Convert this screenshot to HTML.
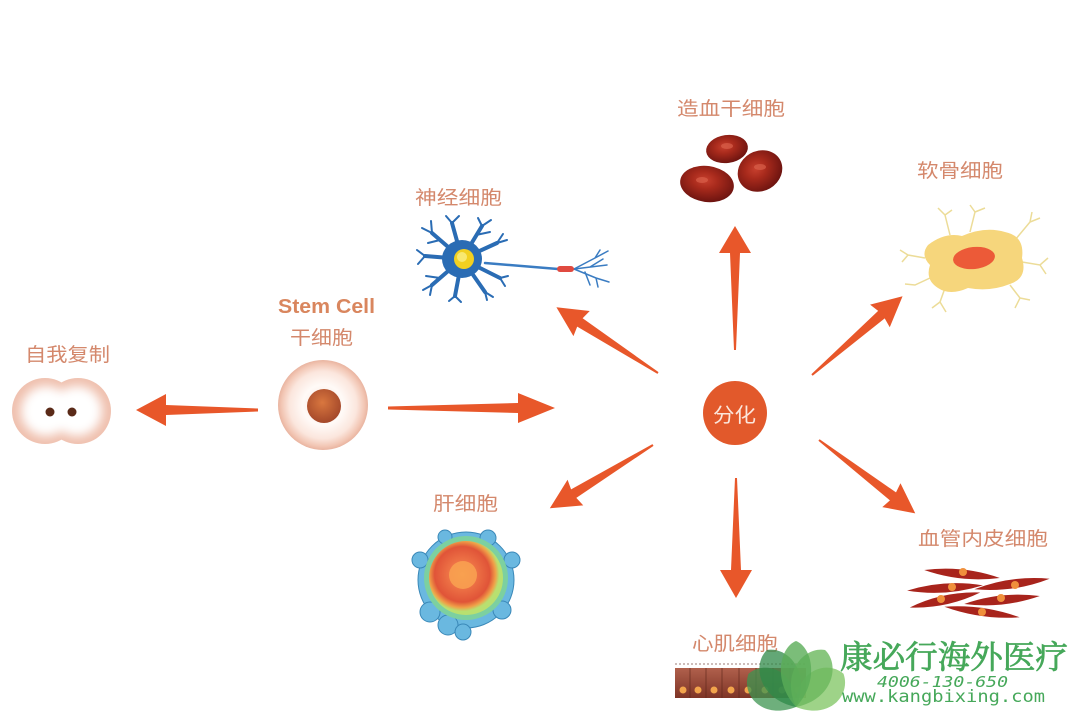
<!DOCTYPE html>
<html>
<head>
<meta charset="utf-8">
<style>
  html,body{margin:0;padding:0;background:#fff;}
  svg{display:block;}
  .lbl{font-family:"Liberation Sans","Noto Sans CJK SC",sans-serif;fill:#d4886c;font-size:19px;}
</style>
</head>
<body>
<svg width="1080" height="720" viewBox="0 0 1080 720" xmlns="http://www.w3.org/2000/svg">
  <defs>
    <radialGradient id="stemG" cx="50%" cy="50%" r="50%">
      <stop offset="0%" stop-color="#fbe6dc"/>
      <stop offset="45%" stop-color="#fffaf7"/>
      <stop offset="75%" stop-color="#fbe6dd"/>
      <stop offset="92%" stop-color="#f2c6b4"/>
      <stop offset="100%" stop-color="#e9b4a0"/>
    </radialGradient>
    <radialGradient id="nucG" cx="45%" cy="40%" r="60%">
      <stop offset="0%" stop-color="#d9773f"/>
      <stop offset="100%" stop-color="#a4482a"/>
    </radialGradient>
    <radialGradient id="rbcG" cx="45%" cy="40%" r="60%">
      <stop offset="0%" stop-color="#c8402e"/>
      <stop offset="40%" stop-color="#a82a1c"/>
      <stop offset="100%" stop-color="#6e1410"/>
    </radialGradient>
    <radialGradient id="livG" cx="45%" cy="45%" r="50%">
      <stop offset="0%" stop-color="#f8a850"/>
      <stop offset="30%" stop-color="#f07848"/>
      <stop offset="75%" stop-color="#e05438"/>
      <stop offset="90%" stop-color="#f0a048"/>
      <stop offset="100%" stop-color="#b8e070"/>
    </radialGradient>
    <linearGradient id="cardG" x1="0" y1="0" x2="0" y2="1">
      <stop offset="0%" stop-color="#b0604c"/>
      <stop offset="100%" stop-color="#7e3426"/>
    </linearGradient>
    <filter id="blur4" x="-30%" y="-30%" width="160%" height="160%">
      <feGaussianBlur stdDeviation="5"/>
    </filter>
  </defs>

  <!-- Arrows -->
  <g fill="#e8572a">
    <polygon transform="translate(258,410) rotate(180)" points="0,-1.5 92,-5 92,-16 122,0 92,16 92,5 0,1.5"/>
    <polygon transform="translate(388,408)" points="0,-1.5 130,-5 130,-15 167,0 130,15 130,5 0,1.5"/>
    <polygon transform="translate(735,350) rotate(-90)" points="0,-1 97,-5 97,-16 124,0 97,16 97,5 0,1"/>
    <polygon transform="translate(736,478) rotate(90)" points="0,-1 92,-5 92,-16 120,0 92,16 92,5 0,1"/>
    <polygon transform="translate(658,373) rotate(212.9)" points="0,-1 93,-5 91,-15 121,0 91,15 93,5 0,1"/>
    <polygon transform="translate(812,375) rotate(-41)" points="0,-1 92,-5 90,-15 120,0 90,15 92,5 0,1"/>
    <polygon transform="translate(653,445) rotate(148.5)" points="0,-1 93,-5 91,-15 121,0 91,15 93,5 0,1"/>
    <polygon transform="translate(819,440) rotate(37.3)" points="0,-1 93,-5 91,-15 121,0 91,15 93,5 0,1"/>
  </g>

  <!-- Center 分化 -->
  <circle cx="735" cy="413" r="32" fill="#e2592b"/>
  <text x="713" y="422" font-family="Liberation Sans,'Noto Sans CJK SC',sans-serif" font-size="20" fill="#fbe6dc" textLength="43" lengthAdjust="spacingAndGlyphs">分化</text>

  <!-- Stem cell -->
  <circle cx="323" cy="405" r="45" fill="url(#stemG)"/>
  <circle cx="324" cy="406" r="17" fill="url(#nucG)"/>
  <text x="278" y="313" font-family="Liberation Sans,sans-serif" font-weight="bold" font-size="20" fill="#d9865e" textLength="97" lengthAdjust="spacingAndGlyphs">Stem Cell</text>
  <text class="lbl" x="290" y="344" textLength="63" lengthAdjust="spacingAndGlyphs">干细胞</text>

  <!-- Self replication -->
  <circle cx="45" cy="411" r="33" fill="#efc0ae"/>
  <circle cx="78" cy="411" r="33" fill="#efc0ae"/>
  <g filter="url(#blur4)" fill="#ffffff">
    <circle cx="46" cy="411" r="25"/>
    <circle cx="77" cy="411" r="25"/>
  </g>
  <circle cx="50" cy="412" r="4.5" fill="#5a2a18"/>
  <circle cx="72" cy="412" r="4.5" fill="#5a2a18"/>
  <text class="lbl" x="25" y="361" textLength="85" lengthAdjust="spacingAndGlyphs">自我复制</text>

  <!-- Neuron -->
  <text class="lbl" x="415" y="204" textLength="87" lengthAdjust="spacingAndGlyphs">神经细胞</text>
  <g stroke="#2a6cb4" fill="none" stroke-linecap="round">
    <g stroke-width="4">
      <path d="M462,259 L432,233"/><path d="M462,259 L452,223"/><path d="M462,259 L482,226"/>
      <path d="M462,259 L497,243"/><path d="M462,259 L425,256"/><path d="M462,259 L432,285"/>
      <path d="M462,259 L455,296"/><path d="M462,259 L485,292"/><path d="M462,259 L500,278"/>
    </g>
    <g stroke-width="2">
      <path d="M432,233 L422,228 M432,233 L431,221 M440,240 L428,243"/>
      <path d="M452,223 L446,216 M452,223 L459,216"/>
      <path d="M482,226 L491,220 M482,226 L478,218 M476,235 L490,232"/>
      <path d="M497,243 L507,240 M497,243 L503,234"/>
      <path d="M425,256 L417,250 M425,256 L418,264"/>
      <path d="M432,285 L423,290 M432,285 L430,295 M440,278 L426,276"/>
      <path d="M455,296 L449,301 M455,296 L461,302"/>
      <path d="M485,292 L493,297 M485,292 L487,300"/>
      <path d="M500,278 L508,276 M500,278 L505,286"/>
    </g>
    <path d="M485,263 Q520,266 558,269" stroke="#3a7cc2" stroke-width="2.5"/>
    <g stroke-width="1.5" stroke="#3a7cc2">
      <path d="M574,269 L595,258 L608,251 M595,258 L600,250"/>
      <path d="M574,269 L607,265 M590,267 L603,259"/>
      <path d="M574,269 L596,278 L609,282 M596,278 L598,287"/>
      <path d="M585,272 L590,285"/>
    </g>
  </g>
  <ellipse cx="462" cy="259" rx="20" ry="19" fill="#2a6cb4"/>
  <circle cx="464" cy="259" r="10" fill="#f2d020"/>
  <circle cx="462" cy="257" r="5" fill="#f8e870"/>
  <rect x="557" y="266" width="17" height="6" rx="3" fill="#e04a40"/>

  <!-- RBC -->
  <text class="lbl" x="677" y="115" textLength="108" lengthAdjust="spacingAndGlyphs">造血干细胞</text>
  <ellipse cx="727" cy="149" rx="21" ry="14" fill="url(#rbcG)" transform="rotate(-8 727 149)"/>
  <ellipse cx="707" cy="184" rx="27" ry="18" fill="url(#rbcG)" transform="rotate(8 707 184)"/>
  <ellipse cx="760" cy="171" rx="23" ry="20" fill="url(#rbcG)" transform="rotate(-30 760 171)"/>
  <ellipse cx="727" cy="146" rx="6" ry="3" fill="#d8604a" opacity="0.7"/>
  <ellipse cx="702" cy="180" rx="6" ry="3" fill="#d8604a" opacity="0.7"/>
  <ellipse cx="760" cy="167" rx="6" ry="3" fill="#d8604a" opacity="0.7"/>

  <!-- Cartilage -->
  <text class="lbl" x="917" y="177" textLength="86" lengthAdjust="spacingAndGlyphs">软骨细胞</text>
  <g stroke="#ecdc98" stroke-width="1.5" fill="none">
    <path d="M950,235 L945,215 L938,208 M945,215 L952,210"/>
    <path d="M970,232 L975,212 L970,205 M975,212 L985,208"/>
    <path d="M1015,240 L1030,222 L1040,218 M1030,222 L1032,212"/>
    <path d="M1022,262 L1040,265 L1048,258 M1040,265 L1046,274"/>
    <path d="M1010,285 L1020,298 L1015,308 M1020,298 L1030,300"/>
    <path d="M945,288 L940,302 L932,308 M940,302 L946,312"/>
    <path d="M925,258 L908,255 L900,250 M908,255 L902,262"/>
    <path d="M930,278 L915,285 L905,284"/>
  </g>
  <path d="M928,245 Q945,232 962,236 Q985,226 1005,232 Q1025,236 1022,258 Q1028,278 1010,284 Q990,292 968,288 Q950,296 938,288 Q925,280 930,265 Q920,255 928,245 Z" fill="#f6d67c"/>
  <ellipse cx="974" cy="258" rx="21" ry="11" fill="#ec5a38" transform="rotate(-6 974 258)"/>

  <!-- Liver -->
  <text class="lbl" x="433" y="510" textLength="65" lengthAdjust="spacingAndGlyphs">肝细胞</text>
  <g fill="#6ab8e0" stroke="#3a88b8" stroke-width="1">
    <circle cx="466" cy="580" r="48"/>
    <circle cx="430" cy="612" r="10"/><circle cx="448" cy="625" r="10"/><circle cx="463" cy="632" r="8"/>
    <circle cx="502" cy="610" r="9"/><circle cx="512" cy="560" r="8"/><circle cx="420" cy="560" r="8"/>
    <circle cx="488" cy="538" r="8"/><circle cx="445" cy="537" r="7"/>
  </g>
  <circle cx="466" cy="578" r="42" fill="#7cd0a0"/>
  <circle cx="466" cy="578" r="37" fill="url(#livG)"/>
  <circle cx="463" cy="575" r="14" fill="#f8a050" opacity="0.9"/>

  <!-- Endothelial -->
  <text class="lbl" x="918" y="545" textLength="130" lengthAdjust="spacingAndGlyphs">血管内皮细胞</text>
  <g fill="#a8241c">
    <path transform="translate(962,574) rotate(6)" d="M-38,0 Q0,-9 38,0 Q0,9 -38,0 Z"/>
    <path transform="translate(1012,584) rotate(-8)" d="M-38,0 Q0,-9 38,0 Q0,9 -38,0 Z"/>
    <path transform="translate(945,588) rotate(-4)" d="M-38,0 Q0,-9 38,0 Q0,9 -38,0 Z"/>
    <path transform="translate(945,600) rotate(-12)" d="M-36,0 Q0,-9 36,0 Q0,9 -36,0 Z"/>
    <path transform="translate(1002,600) rotate(-6)" d="M-38,0 Q0,-9 38,0 Q0,9 -38,0 Z"/>
    <path transform="translate(982,612) rotate(8)" d="M-38,0 Q0,-8 38,0 Q0,8 -38,0 Z"/>
  </g>
  <g fill="#f0903c">
    <circle cx="963" cy="572" r="4"/><circle cx="1015" cy="585" r="4"/><circle cx="952" cy="587" r="4"/>
    <circle cx="941" cy="599" r="4"/><circle cx="1001" cy="598" r="4"/><circle cx="982" cy="612" r="4"/>
  </g>

  <!-- Cardiac -->
  <text class="lbl" x="692" y="650" textLength="86" lengthAdjust="spacingAndGlyphs">心肌细胞</text>
  <rect x="675" y="668" width="131" height="30" fill="url(#cardG)"/>
  <g stroke="#5a2418" stroke-width="1" opacity="0.6">
    <line x1="675" y1="664" x2="806" y2="664" stroke-dasharray="2 2"/>
    <line x1="690" y1="668" x2="690" y2="698"/><line x1="706" y1="668" x2="706" y2="698"/>
    <line x1="722" y1="668" x2="722" y2="698"/><line x1="739" y1="668" x2="739" y2="698"/>
    <line x1="756" y1="668" x2="756" y2="698"/><line x1="773" y1="668" x2="773" y2="698"/>
    <line x1="790" y1="668" x2="790" y2="698"/>
  </g>
  <g fill="#f2a44c">
    <circle cx="683" cy="690" r="3.5"/><circle cx="698" cy="690" r="3.5"/><circle cx="714" cy="690" r="3.5"/>
    <circle cx="731" cy="690" r="3.5"/><circle cx="748" cy="690" r="3.5"/><circle cx="765" cy="690" r="3.5"/>
    <circle cx="782" cy="690" r="3.5"/><circle cx="798" cy="690" r="3.5"/>
  </g>

  <!-- Logo leaves -->
  <g transform="translate(796,707)">
    <path transform="rotate(-55)" d="M0,0 C-30,-20 -22,-52 0,-58 C22,-52 30,-20 0,0 Z" fill="#3d9450" opacity="0.75"/>
    <path transform="rotate(55)" d="M0,0 C-30,-20 -22,-52 0,-58 C22,-52 30,-20 0,0 Z" fill="#86c86a" opacity="0.8"/>
    <path transform="rotate(-27)" d="M0,0 C-30,-24 -20,-58 0,-64 C20,-58 30,-24 0,0 Z" fill="#2f8a48" opacity="0.75"/>
    <path transform="rotate(27)" d="M0,0 C-30,-24 -20,-58 0,-64 C20,-58 30,-24 0,0 Z" fill="#6ab85c" opacity="0.8"/>
    <path d="M0,0 C-24,-26 -16,-60 0,-66 C16,-60 24,-26 0,0 Z" fill="#5aac58" opacity="0.8"/>
  </g>
  <text x="840" y="668" font-family="'Noto Serif CJK SC','WenQuanYi Zen Hei',serif" font-size="32" fill="#46a85a" stroke="#46a85a" stroke-width="0.8" textLength="228" lengthAdjust="spacingAndGlyphs">康必行海外医疗</text>
  <text x="877" y="687" font-family="'DejaVu Sans Mono','Liberation Mono',monospace" font-style="italic" font-size="15" fill="#46a85a" textLength="131" lengthAdjust="spacingAndGlyphs">4006-130-650</text>
  <text x="842" y="702" font-family="'DejaVu Sans Mono','Liberation Mono',monospace" font-size="17" fill="#46a85a" textLength="203" lengthAdjust="spacingAndGlyphs">www.kangbixing.com</text>
</svg>
</body>
</html>
